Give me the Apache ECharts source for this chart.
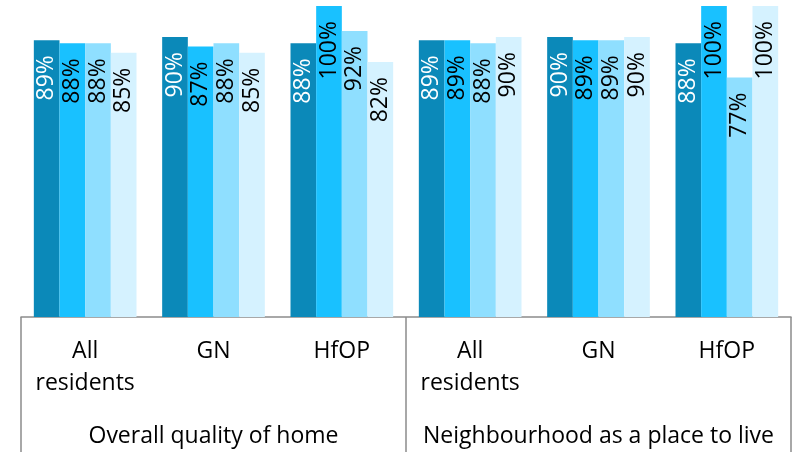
<!DOCTYPE html>
<html>
<head>
<meta charset="utf-8">
<script src="https://cdn.jsdelivr.net/npm/echarts@6/dist/echarts.min.js"></script>
<style>
  html, body { margin: 0; padding: 0; background: #fff; }
  #chart { width: 796px; height: 452px; }
</style>
</head>
<body>
<div id="chart"></div>
<script>
  var groups = ['All\nresidents', 'GN', 'HfOP', 'All\nresidents', 'GN', 'HfOP'];
  var topics = ['Overall quality of home', 'Neighbourhood as a place to live'];

  var series1 = [89, 90, 88, 89, 90, 88];
  var series2 = [88, 87, 100, 89, 89, 100];
  var series3 = [88, 88, 92, 88, 89, 77];
  var series4 = [85, 85, 82, 90, 90, 100];

  var colors = ['#0b89b9', '#19c1ff', '#8fdfff', '#d5f2ff'];
  var labelColors = ['#ffffff', '#000000', '#000000', '#000000'];

  var chartDom = document.getElementById('chart');
  var myChart = echarts.init(chartDom, null, { renderer: 'canvas' });

  function makeSeries(data, i) {
    return {
      type: 'bar',
      data: data,
      barGap: '0%',
      barCategoryGap: '20%',
      itemStyle: { color: colors[i] },
      label: {
        show: true,
        position: 'insideTop',
        rotate: 90,
        align: 'right',
        verticalAlign: 'middle',
        distance: 15,
        formatter: '{c}%',
        color: labelColors[i],
        fontFamily: 'Open Sans',
        fontSize: 23
      }
    };
  }

  var option = {
    animation: false,
    grid: { left: 21, right: 5, top: 6, bottom: 135 },
    xAxis: [
      {
        type: 'category',
        data: groups,
        axisLine: { show: true, lineStyle: { color: '#8c8c8c', width: 1.5 } },
        axisTick: { show: false },
        axisLabel: {
          margin: 18,
          color: '#000',
          fontFamily: 'Open Sans',
          fontSize: 23,
          lineHeight: 32,
          interval: 0
        }
      },
      {
        type: 'category',
        data: topics,
        position: 'bottom',
        axisLine: { show: false },
        axisTick: {
          show: true,
          interval: 0,
          length: 140,
          lineStyle: { color: '#8c8c8c', width: 1.5 }
        },
        axisLabel: {
          margin: 103,
          color: '#000',
          fontFamily: 'Open Sans',
          fontSize: 23,
          lineHeight: 32,
          interval: 0
        }
      }
    ],
    yAxis: {
      type: 'value',
      min: 0,
      max: 100,
      show: false,
      splitLine: { show: false }
    },
    series: [
      makeSeries(series1, 0),
      makeSeries(series2, 1),
      makeSeries(series3, 2),
      makeSeries(series4, 3)
    ]
  };

  myChart.setOption(option);
  window.addEventListener('resize', myChart.resize);
</script>
</body>
</html>
